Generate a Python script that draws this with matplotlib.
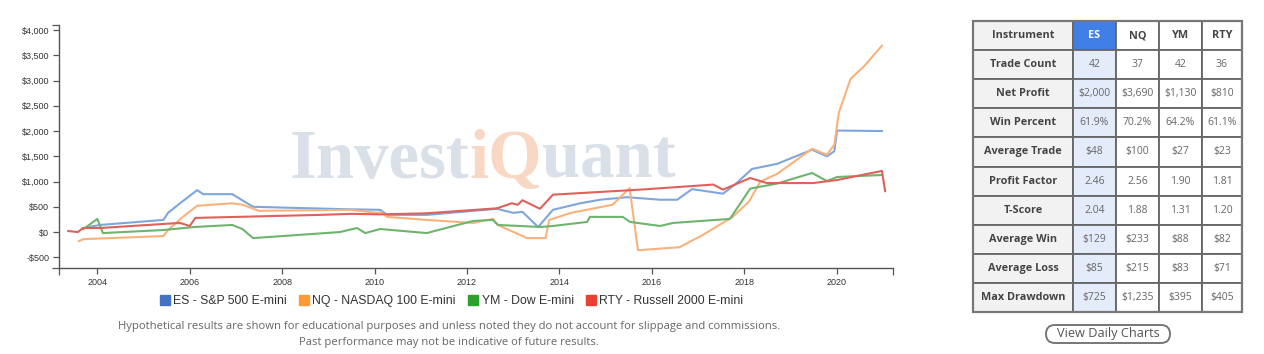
import matplotlib
matplotlib.use("Agg")
import matplotlib.pyplot as plt
from matplotlib.lines import Line2D
from matplotlib.patches import Rectangle, FancyBboxPatch
from matplotlib.ticker import FuncFormatter

# equity curves (decimal year, cumulative profit $)
es_x = [2003.7, 2004.05, 2005.43, 2005.53, 2005.79, 2006.16, 2006.29, 2006.92, 2007.37, 2009.47,
        2010.12, 2010.27, 2011.13, 2012.65, 2013.0, 2013.2, 2013.54, 2013.86, 2014.45, 2014.88,
        2015.46, 2015.75, 2016.18, 2016.55, 2016.87, 2017.54, 2017.8, 2018.17, 2018.71, 2019.47,
        2019.79, 2019.95, 2020.01, 2020.98]
es_y = [80, 140, 240, 380, 570, 830, 750, 750, 500, 450,
        440, 340, 340, 460, 380, 400, 100, 440, 570, 640,
        690, 670, 640, 640, 850, 760, 940, 1250, 1350, 1630,
        1500, 1600, 2010, 2000]

nq_x = [2003.6, 2003.7, 2005.43, 2005.53, 2005.85, 2006.16, 2006.92, 2007.14, 2007.5, 2009.47,
        2010.05, 2010.15, 2010.27, 2011.13, 2012.13, 2012.56, 2012.67, 2013.3, 2013.7, 2013.78,
        2014.25, 2015.15, 2015.52, 2015.7, 2016.6, 2017.1, 2017.75, 2018.1, 2018.35, 2018.71,
        2019.47, 2019.79, 2019.95, 2020.05, 2020.3, 2020.6, 2020.98]
nq_y = [-180, -140, -80, 40, 300, 520, 570, 540, 420, 440,
        380, 390, 300, 240, 180, 260, 140, -120, -120, 240,
        380, 540, 870, -360, -300, -60, 300, 600, 1000, 1150,
        1650, 1530, 1730, 2370, 3030, 3290, 3690]

ym_x = [2003.7, 2004.0, 2004.12, 2005.43, 2006.1, 2006.92, 2007.14, 2007.37, 2009.25, 2009.62,
        2009.8, 2010.12, 2011.13, 2012.13, 2012.56, 2012.67, 2013.15, 2013.58, 2013.86, 2014.6,
        2014.66, 2015.37, 2015.53, 2016.18, 2016.46, 2017.69, 2018.13, 2018.71, 2019.47, 2019.79,
        2020.01, 2020.98]
ym_y = [60, 260, -20, 40, 100, 140, 60, -120, 0, 80,
        -20, 60, -20, 220, 240, 140, 120, 100, 120, 200,
        300, 300, 200, 120, 180, 260, 860, 960, 1170, 1010,
        1090, 1130]

rty_x = [2003.37, 2003.58, 2003.69, 2004.06, 2005.43, 2005.79, 2006.0, 2006.12, 2008.82, 2009.5,
         2010.12, 2011.1, 2012.65, 2012.97, 2013.1, 2013.2, 2013.58, 2013.86, 2015.75, 2017.33,
         2017.54, 2018.13, 2018.49, 2019.49, 2020.01, 2020.98, 2021.05]
rty_y = [20, 0, 80, 80, 160, 180, 120, 280, 340, 360,
         350, 370, 470, 570, 540, 630, 460, 740, 840, 940,
         840, 1070, 970, 970, 1030, 1210, 810]

series_names = ["ES - S&P 500 E-mini", "NQ - NASDAQ 100 E-mini", "YM - Dow E-mini",
                "RTY - Russell 2000 E-mini"]
line_colors = ["#7fa6dc", "#f9b27c", "#6db46d", "#e0605a"]
legend_colors = ["#4472c4", "#ff9933", "#2ca02c", "#e8412f"]

# stats table
col_heads = ["Instrument", "ES", "NQ", "YM", "RTY"]
row_heads = ["Trade Count", "Net Profit", "Win Percent", "Average Trade", "Profit Factor",
             "T-Score", "Average Win", "Average Loss", "Max Drawdown"]
table_vals = [
    ["42", "37", "42", "36"],
    ["$2,000", "$3,690", "$1,130", "$810"],
    ["61.9%", "70.2%", "64.2%", "61.1%"],
    ["$48", "$100", "$27", "$23"],
    ["2.46", "2.56", "1.90", "1.81"],
    ["2.04", "1.88", "1.31", "1.20"],
    ["$129", "$233", "$88", "$82"],
    ["$85", "$215", "$83", "$71"],
    ["$725", "$1,235", "$395", "$405"],
]

W, H = 1264, 354
fig = plt.figure(figsize=(W / 100, H / 100), dpi=100)
fig.patch.set_facecolor("white")

# chart axes
x0, x1, ytop, ybot = 59, 893, 25, 268
ax = fig.add_axes([x0 / W, 1 - ybot / H, (x1 - x0) / W, (ybot - ytop) / H])
for xs, ys, c in zip([es_x, nq_x, ym_x, rty_x], [es_y, nq_y, ym_y, rty_y], line_colors):
    ax.plot(xs, ys, color=c, lw=1.5, zorder=3)

ax.set_xlim(2003.17, 2021.22)
ax.set_ylim(-712, 4100)
ax.set_xticks(range(2004, 2021, 2))
ax.set_yticks(range(-500, 4001, 500))
ax.set_xticks([2003.17, 2021.22], minor=True)
ax.set_yticks([-712, 4100], minor=True)
ax.yaxis.set_major_formatter(FuncFormatter(lambda v, p: ("-$" if v < 0 else "$") + f"{abs(int(v)):,}"))
for s in ["top", "right"]:
    ax.spines[s].set_visible(False)
for s in ["left", "bottom"]:
    ax.spines[s].set_color("#555555")
    ax.spines[s].set_linewidth(1.0)
ax.tick_params(which="both", length=4, width=0.9, color="#555555", labelcolor="#333333",
               labelsize=6.5, pad=3)
ax.tick_params(which="minor", length=5)
for lab in ax.get_xticklabels() + ax.get_yticklabels():
    lab.set_fontfamily("Liberation Sans")

# pixel overlay
ov = fig.add_axes([0, 0, 1, 1])
ov.set_xlim(0, W)
ov.set_ylim(H, 0)
ov.axis("off")

# watermark
fig.canvas.draw()
r = fig.canvas.get_renderer()
xpos = 290
for part, c in [("Invest", "#d9e0e8"), ("iQ", "#f8d8c4"), ("uant", "#d9e0e8")]:
    t = ax.text(xpos, 178, part, transform=ov.transData, fontsize=49.5, fontweight="bold",
                family="Liberation Serif", color=c, ha="left", va="baseline", zorder=1)
    xpos += t.get_window_extent(r).width

# legend
handles = [Line2D([], [], marker="s", ls="none", markersize=7.5, markerfacecolor=c,
                  markeredgecolor=c) for c in legend_colors]
fig.legend(handles, series_names, loc="center", bbox_to_anchor=(451 / W, 1 - 301 / H), ncol=4,
           frameon=False, handletextpad=0.2, columnspacing=0.9, handlelength=1.0,
           prop={"family": "Liberation Sans", "size": 8.8})
for lab in fig.legends[0].get_texts():
    lab.set_color("#333333")

ov.text(449, 327, "Hypothetical results are shown for educational purposes and unless noted they do not "
        "account for slippage and commissions.", ha="center", va="center", fontsize=8.1,
        family="Open Sans", color="#666666")
ov.text(449, 343, "Past performance may not be indicative of future results.", ha="center",
        va="center", fontsize=8.1, family="Open Sans", color="#666666")

# table
col_x = [973, 1073, 1116, 1159, 1202, 1242]
row_y0, row_h = 21, 29.1
n_rows = len(row_heads) + 1
for i in range(n_rows):
    for j in range(5):
        xa, xb = col_x[j], col_x[j + 1]
        ya = row_y0 + i * row_h
        if j == 0:
            fc = "#f2f2f2"
        elif j == 1:
            fc = "#3f7fe6" if i == 0 else "#e4ecfb"
        else:
            fc = "white"
        ov.add_patch(Rectangle((xa, ya), xb - xa, row_h, facecolor=fc, edgecolor="#666666", lw=1.3))
        if i == 0:
            txt = col_heads[j]
        elif j == 0:
            txt = row_heads[i - 1]
        else:
            txt = table_vals[i - 1][j - 1]
        bold = (j == 0) or i == 0
        if i == 0 and j == 1:
            tc = "white"
        elif bold:
            tc = "#444444"
        else:
            tc = "#666666"
        ov.text((xa + xb) / 2, ya + row_h / 2, txt, ha="center", va="center",
                fontsize=7.8 if bold else 7.5, family="Open Sans",
                fontweight="bold" if bold else "normal", color=tc)
ov.add_patch(Rectangle((col_x[0], row_y0), col_x[-1] - col_x[0], n_rows * row_h,
                       facecolor="none", edgecolor="#777777", lw=1.6))

# button
ov.add_patch(FancyBboxPatch((1046, 325), 124, 18, boxstyle="round,pad=0,rounding_size=9",
                            facecolor="white", edgecolor="#777777", lw=1.4))
ov.text(1108, 334, "View Daily Charts", ha="center", va="center", fontsize=9.2,
        family="Open Sans", color="#555555")

fig.savefig("out.png", dpi=100)
